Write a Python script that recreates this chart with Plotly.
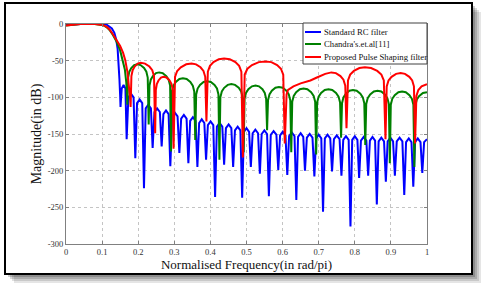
import plotly.graph_objects as go

# ---------------- data ----------------
series_names = ["Standard RC filter", "Chandra's.et.al[11]", "Proposed Pulse Shaping filter"]
series_colors = ["#0000ff", "#008000", "#ff0000"]

x_ticks = [0, 0.1, 0.2, 0.3, 0.4, 0.5, 0.6, 0.7, 0.8, 0.9, 1]
x_tick_labels = ["0", "0.1", "0.2", "0.3", "0.4", "0.5", "0.6", "0.7", "0.8", "0.9", "1"]
y_ticks = [0, -50, -100, -150, -200, -250, -300]
y_tick_labels = ["0", "-50", "-100", "-150", "-200", "-250", "-300"]

blue_x = [0, 0.02, 0.04, 0.11, 0.117, 0.127, 0.134, 0.139, 0.143, 0.146, 0.148, 0.150, 0.151,
          0.1544, 0.1595, 0.1646, 0.168,
          0.1728, 0.180, 0.1872, 0.192,
          0.1968, 0.204, 0.2112, 0.216,
          0.2208, 0.228, 0.2352, 0.240,
          0.245, 0.2525, 0.260, 0.265,
          0.2698, 0.277, 0.2842, 0.289,
          0.294, 0.3015, 0.309, 0.314,
          0.319, 0.3265, 0.334, 0.339,
          0.344, 0.3515, 0.359, 0.364,
          0.3688, 0.376, 0.3832, 0.388,
          0.393, 0.4005, 0.408, 0.413,
          0.418, 0.4255, 0.433, 0.438,
          0.443, 0.4505, 0.458, 0.463,
          0.468, 0.4755, 0.483, 0.488,
          0.4928, 0.500, 0.5072, 0.512,
          0.517, 0.5245, 0.532, 0.537,
          0.542, 0.5495, 0.557, 0.562,
          0.5672, 0.575, 0.5828, 0.588,
          0.593, 0.6005, 0.608, 0.613,
          0.618, 0.6255, 0.633, 0.638,
          0.6428, 0.650, 0.6572, 0.662,
          0.6672, 0.675, 0.6828, 0.688,
          0.6928, 0.700, 0.7072, 0.712,
          0.717, 0.7245, 0.732, 0.737,
          0.7422, 0.750, 0.7578, 0.763,
          0.768, 0.7755, 0.783, 0.788,
          0.7928, 0.800, 0.8072, 0.812,
          0.817, 0.8245, 0.832, 0.837,
          0.8418, 0.849, 0.8562, 0.861,
          0.866, 0.8735, 0.881, 0.886,
          0.891, 0.8985, 0.906, 0.911,
          0.9162, 0.924, 0.9318, 0.937,
          0.942, 0.9495, 0.957, 0.962,
          0.967, 0.9745, 0.982, 0.987,
          0.992, 1.0]
blue_y = [-1.5, -0.6, 0, 0, -2, -6, -12, -21, -34, -52, -75, -98, -113,
          -88, -83, -88, -157,
          -100, -95, -100, -183,
          -108, -103, -108, -224,
          -115, -110, -115, -169,
          -120, -115, -120, -167,
          -123, -118, -123, -194,
          -126, -121, -126, -176,
          -129, -124, -129, -190,
          -132, -127, -132, -195,
          -135, -130, -135, -185,
          -138, -133, -138, -236,
          -140, -135, -140, -192,
          -142, -137, -142, -195,
          -145, -140, -145, -237,
          -147, -142, -147, -195,
          -149, -144, -149, -204,
          -150, -145, -150, -235,
          -151, -146, -151, -199,
          -152, -147, -152, -206,
          -153, -148, -153, -240,
          -154, -149, -154, -200,
          -155, -150, -155, -208,
          -156, -151, -156, -256,
          -156, -151, -156, -201,
          -157, -152, -157, -207,
          -158, -153, -158, -276,
          -158, -153, -158, -210,
          -159, -154, -159, -207,
          -159, -154, -159, -246,
          -160, -155, -160, -215,
          -160, -155, -160, -207,
          -160, -155, -160, -233,
          -161, -156, -161, -222,
          -161, -156, -161, -203,
          -161, -157]

green_x = [0, 0.02, 0.04, 0.08, 0.09, 0.103, 0.113, 0.122, 0.13, 0.14, 0.15, 0.158, 0.163, 0.167, 0.170,
           0.1722, 0.1754, 0.1808, 0.1889, 0.197, 0.2066, 0.2162, 0.2226, 0.2264, 0.229,
           0.2313, 0.2348, 0.2406, 0.2493, 0.258, 0.2679, 0.2778, 0.2844, 0.2884, 0.291,
           0.2936, 0.2976, 0.3042, 0.3141, 0.324, 0.3342, 0.3444, 0.3512, 0.3553, 0.358,
           0.3606, 0.3646, 0.3712, 0.3811, 0.391, 0.4012, 0.4114, 0.4182, 0.4223, 0.425,
           0.4276, 0.4316, 0.4382, 0.4481, 0.458, 0.4682, 0.4784, 0.4852, 0.4893, 0.492,
           0.4946, 0.4986, 0.5052, 0.5151, 0.525, 0.5346, 0.5442, 0.5506, 0.5544, 0.557,
           0.5596, 0.5636, 0.5702, 0.5801, 0.590, 0.6002, 0.6104, 0.6172, 0.6213, 0.624,
           0.6267, 0.6308, 0.6376, 0.6478, 0.658, 0.6685, 0.679, 0.686, 0.6902, 0.693,
           0.6957, 0.6998, 0.7066, 0.7168, 0.727, 0.7375, 0.748, 0.755, 0.7592, 0.762,
           0.7646, 0.7686, 0.7752, 0.7851, 0.795, 0.8052, 0.8154, 0.8222, 0.8263, 0.829,
           0.8317, 0.8358, 0.8426, 0.8528, 0.863, 0.8732, 0.8834, 0.8902, 0.8943, 0.897,
           0.8997, 0.9038, 0.9106, 0.9208, 0.931, 0.9412, 0.9514, 0.9582, 0.9623, 0.965,
           0.9677, 0.9718, 0.9786, 0.9888, 1.0]
green_y = [-2, -0.7, 0, 0, -0.4, -1.6, -4.5, -9, -15, -24, -36, -50, -62, -80, -110,
           -73, -65, -60, -56, -55, -56, -60, -65, -73, -137,
           -84, -76, -71, -67, -66, -67, -71, -76, -84, -174,
           -92, -84, -79, -75, -74, -75, -79, -84, -92, -158,
           -96, -88, -83, -79, -78, -79, -83, -88, -96, -185,
           -100, -92, -87, -83, -82, -83, -87, -92, -100, -175,
           -102, -94, -89, -85, -84, -85, -89, -94, -102, -145,
           -104, -96, -91, -87, -86, -87, -91, -96, -104, -175,
           -106, -98, -93, -89, -88, -89, -93, -98, -106, -178,
           -107, -99, -94, -90, -89, -90, -94, -99, -107, -155,
           -108, -100, -95, -91, -90, -91, -95, -100, -108, -165,
           -109, -101, -96, -92, -91, -92, -96, -101, -109, -190,
           -110, -102, -97, -93, -92, -93, -97, -102, -110, -195,
           -111, -103, -98, -94, -93]

red_x = [0, 0.02, 0.04, 0.08, 0.09, 0.103, 0.113, 0.12, 0.13, 0.14, 0.15, 0.158, 0.164, 0.170, 0.174, 0.177, 0.179,
         0.1812, 0.1846, 0.1902, 0.1986, 0.207, 0.219, 0.231, 0.239, 0.2438, 0.247,
         0.2488, 0.2516, 0.2562, 0.2631, 0.270, 0.2784, 0.2868, 0.2924, 0.2958, 0.298,
         0.302, 0.308, 0.318, 0.333, 0.348, 0.3603, 0.3726, 0.3808, 0.3857, 0.389,
         0.3929, 0.3988, 0.4086, 0.4233, 0.438, 0.4536, 0.4692, 0.4796, 0.4858, 0.490,
         0.495, 0.5026, 0.5152, 0.5341, 0.553, 0.5689, 0.5848, 0.5954, 0.6018, 0.606,
         0.6085, 0.611, 0.615, 0.63, 0.65, 0.677, 0.695, 0.718, 0.735, 0.7476, 0.7602, 0.7686, 0.7736, 0.777,
         0.7811, 0.7872, 0.7974, 0.8127, 0.828, 0.8451, 0.8622, 0.8736, 0.8804, 0.885,
         0.8884, 0.8934, 0.9018, 0.9144, 0.927, 0.939, 0.951, 0.959, 0.9638, 0.967,
         0.9706, 0.976, 0.985, 1.0]
red_y = [-2, -0.7, 0, 0, -0.4, -1.5, -4, -7, -14, -22, -30, -39, -49, -65, -82, -98, -113,
         -71, -63, -58, -54, -53, -54, -58, -63, -71, -149,
         -90, -82, -77, -73, -72, -73, -77, -82, -90, -170,
         -72, -64, -59, -55, -54, -55, -59, -64, -72, -133,
         -65, -57, -52, -48, -47, -48, -52, -57, -65, -182,
         -69, -61, -56, -52, -51, -52, -56, -61, -69, -163,
         -108, -96, -90, -85, -81, -77, -73, -68, -66, -67, -71, -76, -84, -142,
         -77, -69, -64, -60, -59, -60, -64, -69, -77, -157,
         -85, -77, -72, -68, -67, -68, -72, -77, -85, -163,
         -98, -90, -85, -82]

# ---------------- figure ----------------
W, H = 488, 291
ML, MR, MT, MB = 66, 61, 24, 47
PW, PH = W - ML - MR, H - MT - MB
SERIF = "Liberation Serif, Times New Roman, serif"


def px(xp):
    return (xp - ML) / PW


def py(yp):
    return (H - MB - yp) / PH


fig = go.Figure()
for xs, ys, name, col in [(blue_x, blue_y, series_names[0], series_colors[0]),
                          (green_x, green_y, series_names[1], series_colors[1]),
                          (red_x, red_y, series_names[2], series_colors[2])]:
    fig.add_trace(go.Scatter(x=xs, y=ys, mode="lines", name=name,
                             line=dict(color=col, width=2), showlegend=False,
                             hoverinfo="skip"))

shapes = []
# drop shadow of the outer frame
for off, a in [(9, 0.10), (7, 0.12), (5, 0.15), (3, 0.18)]:
    shapes.append(dict(type="rect", xref="paper", yref="paper", layer="below",
                       x0=px(5 + off), x1=px(472 + off), y0=py(274 + off), y1=py(3 + off),
                       line=dict(width=0), fillcolor=f"rgba(0,0,0,{a})"))
# outer frame
shapes.append(dict(type="rect", xref="paper", yref="paper", layer="below",
                   x0=px(5), x1=px(472), y0=py(274), y1=py(3),
                   line=dict(color="black", width=2), fillcolor="white"))
# custom legend box
shapes.append(dict(type="rect", xref="paper", yref="paper", layer="above",
                   x0=px(303), x1=px(427), y0=py(64), y1=py(23),
                   line=dict(color="#404040", width=1), fillcolor="white"))
annotations = []
rows_y = [32, 44, 57]
for i in range(3):
    shapes.append(dict(type="line", xref="paper", yref="paper", layer="above",
                       x0=px(305), x1=px(321), y0=py(rows_y[i]), y1=py(rows_y[i]),
                       line=dict(color=series_colors[i], width=2)))
    annotations.append(dict(xref="paper", yref="paper", x=px(322), y=py(rows_y[i]),
                            text=series_names[i], showarrow=False, xanchor="left",
                            yanchor="middle", font=dict(family=SERIF, size=8.7, color="#111")))

axis_common = dict(showgrid=True, gridcolor="#c4c4c4", griddash="dot", gridwidth=1,
                   zeroline=False, showline=True, linecolor="#808080", linewidth=1,
                   mirror="ticks", ticks="inside", ticklen=3, tickcolor="#808080",
                   tickfont=dict(family=SERIF, size=8.5, color="#333"))

fig.update_layout(
    width=W, height=H,
    margin=dict(l=ML, r=MR, t=MT, b=MB, pad=0),
    paper_bgcolor="white", plot_bgcolor="white",
    shapes=shapes, annotations=annotations,
    xaxis=dict(range=[0, 1], tickmode="array", tickvals=x_ticks, ticktext=x_tick_labels,
               title=dict(text="Normalised Frequency(in rad/pi)", standoff=3,
                          font=dict(family=SERIF, size=13, color="#111")),
               **axis_common),
    yaxis=dict(range=[-300, 0], tickmode="array", tickvals=y_ticks, ticktext=y_tick_labels,
               title=dict(text="Magnitude(in dB)", standoff=2,
                          font=dict(family=SERIF, size=14, color="#111")),
               **axis_common),
)

fig.write_html("out.html", config={"displayModeBar": False},
               post_script="document.body.style.margin='0';document.body.style.padding='0';")
